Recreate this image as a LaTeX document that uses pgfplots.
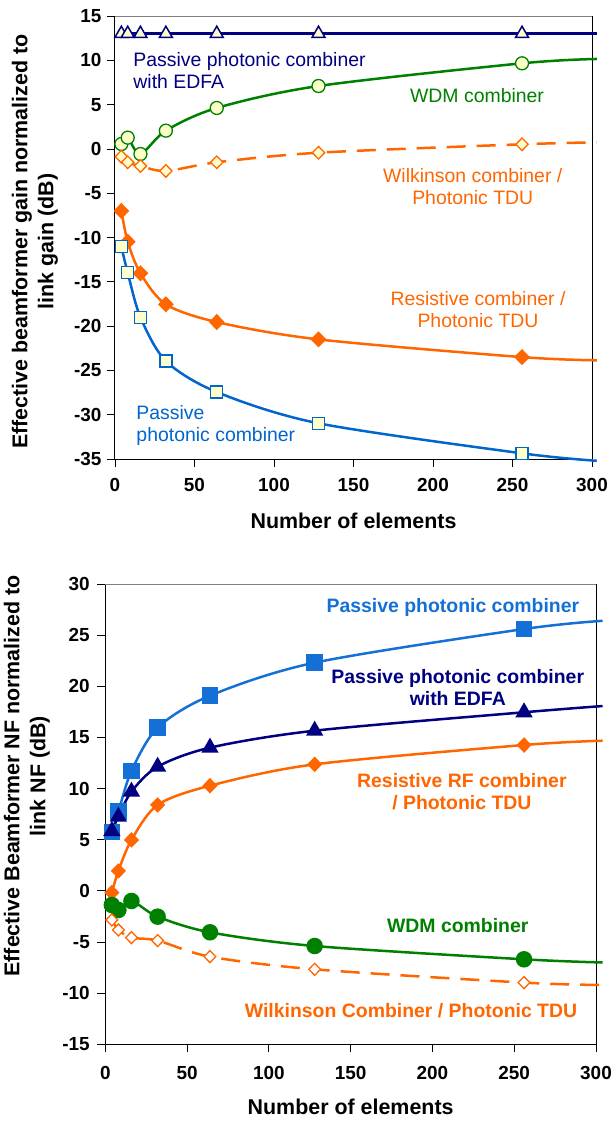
\documentclass[border=0pt]{standalone}
\usepackage{pgfplots}
\pgfplotsset{compat=1.18}
\usepackage{fontspec}
\setmainfont{Liberation Sans}
\definecolor{cnavy}{RGB}{0,0,128}
\definecolor{cgreen}{RGB}{0,128,0}
\definecolor{corange}{RGB}{255,102,0}
\definecolor{cblue}{RGB}{0,102,204}
\definecolor{cblueb}{RGB}{20,112,214}
\definecolor{cfill}{RGB}{255,255,204}

\pgfplotstableread{
x     edfa   wdm    wilk   res     pas
4     13     0.55   -0.88  -7.0    -11.04
8     13     1.27   -1.51  -10.47  -13.97
16    13     -0.58  -1.93  -14.04  -19.0
32    13     2.06   -2.49  -17.54  -23.94
64    13     4.62   -1.51  -19.54  -27.44
128   13     7.1    -0.43  -21.5   -30.97
256   13     9.66   0.52   -23.5   -34.36
303   13     10.15  0.74   -23.86  -35.2
}\gaintab

\pgfplotstableread{
x     pas    edfa   res    wdm    wilk
4     5.75   5.85   -0.17  -1.38  -2.84
8     7.74   7.25   1.95   -1.87  -3.82
16    11.72  9.7    4.98   -0.99  -4.57
32    15.95  12.14  8.4    -2.52  -4.86
64    19.08  14.0   10.28  -4.05  -6.43
128   22.31  15.66  12.37  -5.39  -7.67
256   25.6   17.46  14.26  -6.69  -8.97
304   26.4   18.07  14.68  -7.0   -9.2
}\nftab

\pgfplotsset{
  myaxis/.style={
    scale only axis,
    xmin=0, xmax=300,
    xtick={0,50,...,300},
    axis x line*=bottom,
    axis y line*=left,
    tick align=outside,
    major tick length=8bp,
    tick style={black, line width=0.8bp},
    axis line style={black, line width=1bp},
    ticklabel style={font=\fontsize{19}{22}\selectfont\bfseries},
    /pgf/number format/assume math mode=true,
    xlabel style={font=\fontsize{21.5}{25}\selectfont\bfseries},
    clip=false,
    every axis plot/.append style={line width=2.5bp, smooth},
  },
}

\begin{document}
\begin{tikzpicture}

% ---------------- top: gain ----------------
\begin{axis}[myaxis,
  name=top,
  at={(0bp,0bp)}, anchor=south west,
  width=477bp, height=443bp,
  ymin=-35, ymax=15, ytick={-35,-30,...,15},
  xlabel={Number of elements},
  xlabel style={at={(axis description cs:0.5,-0.14)}, anchor=center},
  xticklabel style={yshift=-8bp},
  yticklabel style={xshift=-2bp},
]
\draw[gray, line width=0.8bp] (axis description cs:0,1) -- (axis description cs:1,1);
\draw[black, line width=0.8bp] (axis description cs:1,1) -- (axis description cs:1,0);
\node[rotate=90, align=center, font=\fontsize{21.5}{26}\selectfont\bfseries]
  at (axis description cs:-0.168,0.491) {Effective beamformer gain normalized to\\link gain (dB)};

\addplot[cnavy, mark=triangle*, mark indices={1,2,3,4,5,6,7}, mark size=7.5bp,
  mark options={fill=cfill, draw=cnavy, line width=1.5bp}] table[x=x,y=edfa]{\gaintab};
\addplot[cgreen, mark=*, mark indices={1,2,3,4,5,6,7}, mark size=6.5bp,
  mark options={fill=cfill, draw=cgreen, line width=1.3bp}] table[x=x,y=wdm]{\gaintab};
\addplot[corange, dash pattern=on 19bp off 11bp, mark=diamond*, mark indices={1,2,3,4,5,6,7}, mark size=6.3bp,
  mark options={solid, xscale=1.3, fill=cfill, draw=corange, line width=1.3bp}] table[x=x,y=wilk]{\gaintab};
\addplot[corange, mark=diamond*, mark indices={1,2,3,4,5,6,7}, mark size=6.3bp,
  mark options={xscale=1.3, fill=corange, draw=corange}] table[x=x,y=res]{\gaintab};
\addplot[cblue, mark=square*, mark indices={1,2,3,4,5,6,7}, mark size=6bp,
  mark options={fill=cfill, draw=cblue, line width=1.3bp}] table[x=x,y=pas]{\gaintab};

\begin{scope}[font=\fontsize{19.5}{22}\selectfont]
\node[cnavy, anchor=west, align=left] at (axis cs:9.4,8.85) {Passive photonic combiner\\with EDFA};
\node[cgreen, align=center] at (axis cs:227.7,5.97) {WDM combiner};
\node[corange, align=center] at (axis cs:225,-4.3) {Wilkinson combiner /\\Photonic TDU};
\node[corange, align=center] at (axis cs:228.3,-18.18) {Resistive combiner /\\Photonic TDU};
\node[cblue, anchor=west, align=left] at (axis cs:11.3,-31.22) {Passive\\photonic combiner};
\end{scope}
\end{axis}

% ---------------- bottom: NF ----------------
\begin{axis}[myaxis,
  at={(-9.7bp,-585.3bp)}, anchor=south west,
  width=490.7bp, height=460.3bp,
  ymin=-15, ymax=30, ytick={-15,-10,...,30},
  xlabel={Number of elements},
  xlabel style={at={(axis description cs:0.5,-0.136)}, anchor=center},
  xticklabel style={yshift=-10bp},
  yticklabel style={xshift=-4bp},
]
\draw[gray, line width=0.8bp] (axis description cs:0,1) -- (axis description cs:1,1);
\draw[black, line width=0.8bp] (axis description cs:1,1) -- (axis description cs:1,0);
\node[rotate=90, align=center, font=\fontsize{21.5}{26}\selectfont\bfseries]
  at (axis description cs:-0.160,0.583) {Effective Beamformer NF normalized to\\link NF (dB)};

\addplot[cblueb, mark=square*, mark indices={1,2,3,4,5,6,7}, mark size=7bp,
  mark options={fill=cblueb, draw=cblueb}] table[x=x,y=pas]{\nftab};
\addplot[cnavy, mark=triangle*, mark indices={1,2,3,4,5,6,7}, mark size=7.5bp,
  mark options={fill=cnavy, draw=cnavy}] table[x=x,y=edfa]{\nftab};
\addplot[corange, mark=diamond*, mark indices={1,2,3,4,5,6,7}, mark size=6bp,
  mark options={xscale=1.3, fill=corange, draw=corange}] table[x=x,y=res]{\nftab};
\addplot[cgreen, mark=*, mark indices={1,2,3,4,5,6,7}, mark size=7bp,
  mark options={fill=cgreen, draw=cgreen}] table[x=x,y=wdm]{\nftab};
\addplot[corange, dash pattern=on 19bp off 11bp, mark=diamond*, mark indices={1,2,3,4,5,6,7}, mark size=6bp,
  mark options={solid, xscale=1.3, fill=white, draw=corange, line width=1.3bp}] table[x=x,y=wilk]{\nftab};

\begin{scope}[font=\fontsize{19.5}{22}\selectfont\bfseries]
\node[cblueb, align=center] at (axis cs:212.5,27.75) {Passive photonic combiner};
\node[cnavy, align=center] at (axis cs:215.5,19.88) {Passive photonic combiner\\with EDFA};
\node[corange, align=center] at (axis cs:218,9.72) {Resistive RF combiner\\/ Photonic TDU};
\node[cgreen, align=center] at (axis cs:215.5,-3.43) {WDM combiner};
\node[corange, align=center] at (axis cs:186.9,-11.74) {Wilkinson Combiner / Photonic TDU};
\end{scope}
\end{axis}
\path (-115bp,-662bp) rectangle (497bp,459bp);
\end{tikzpicture}
\end{document}
